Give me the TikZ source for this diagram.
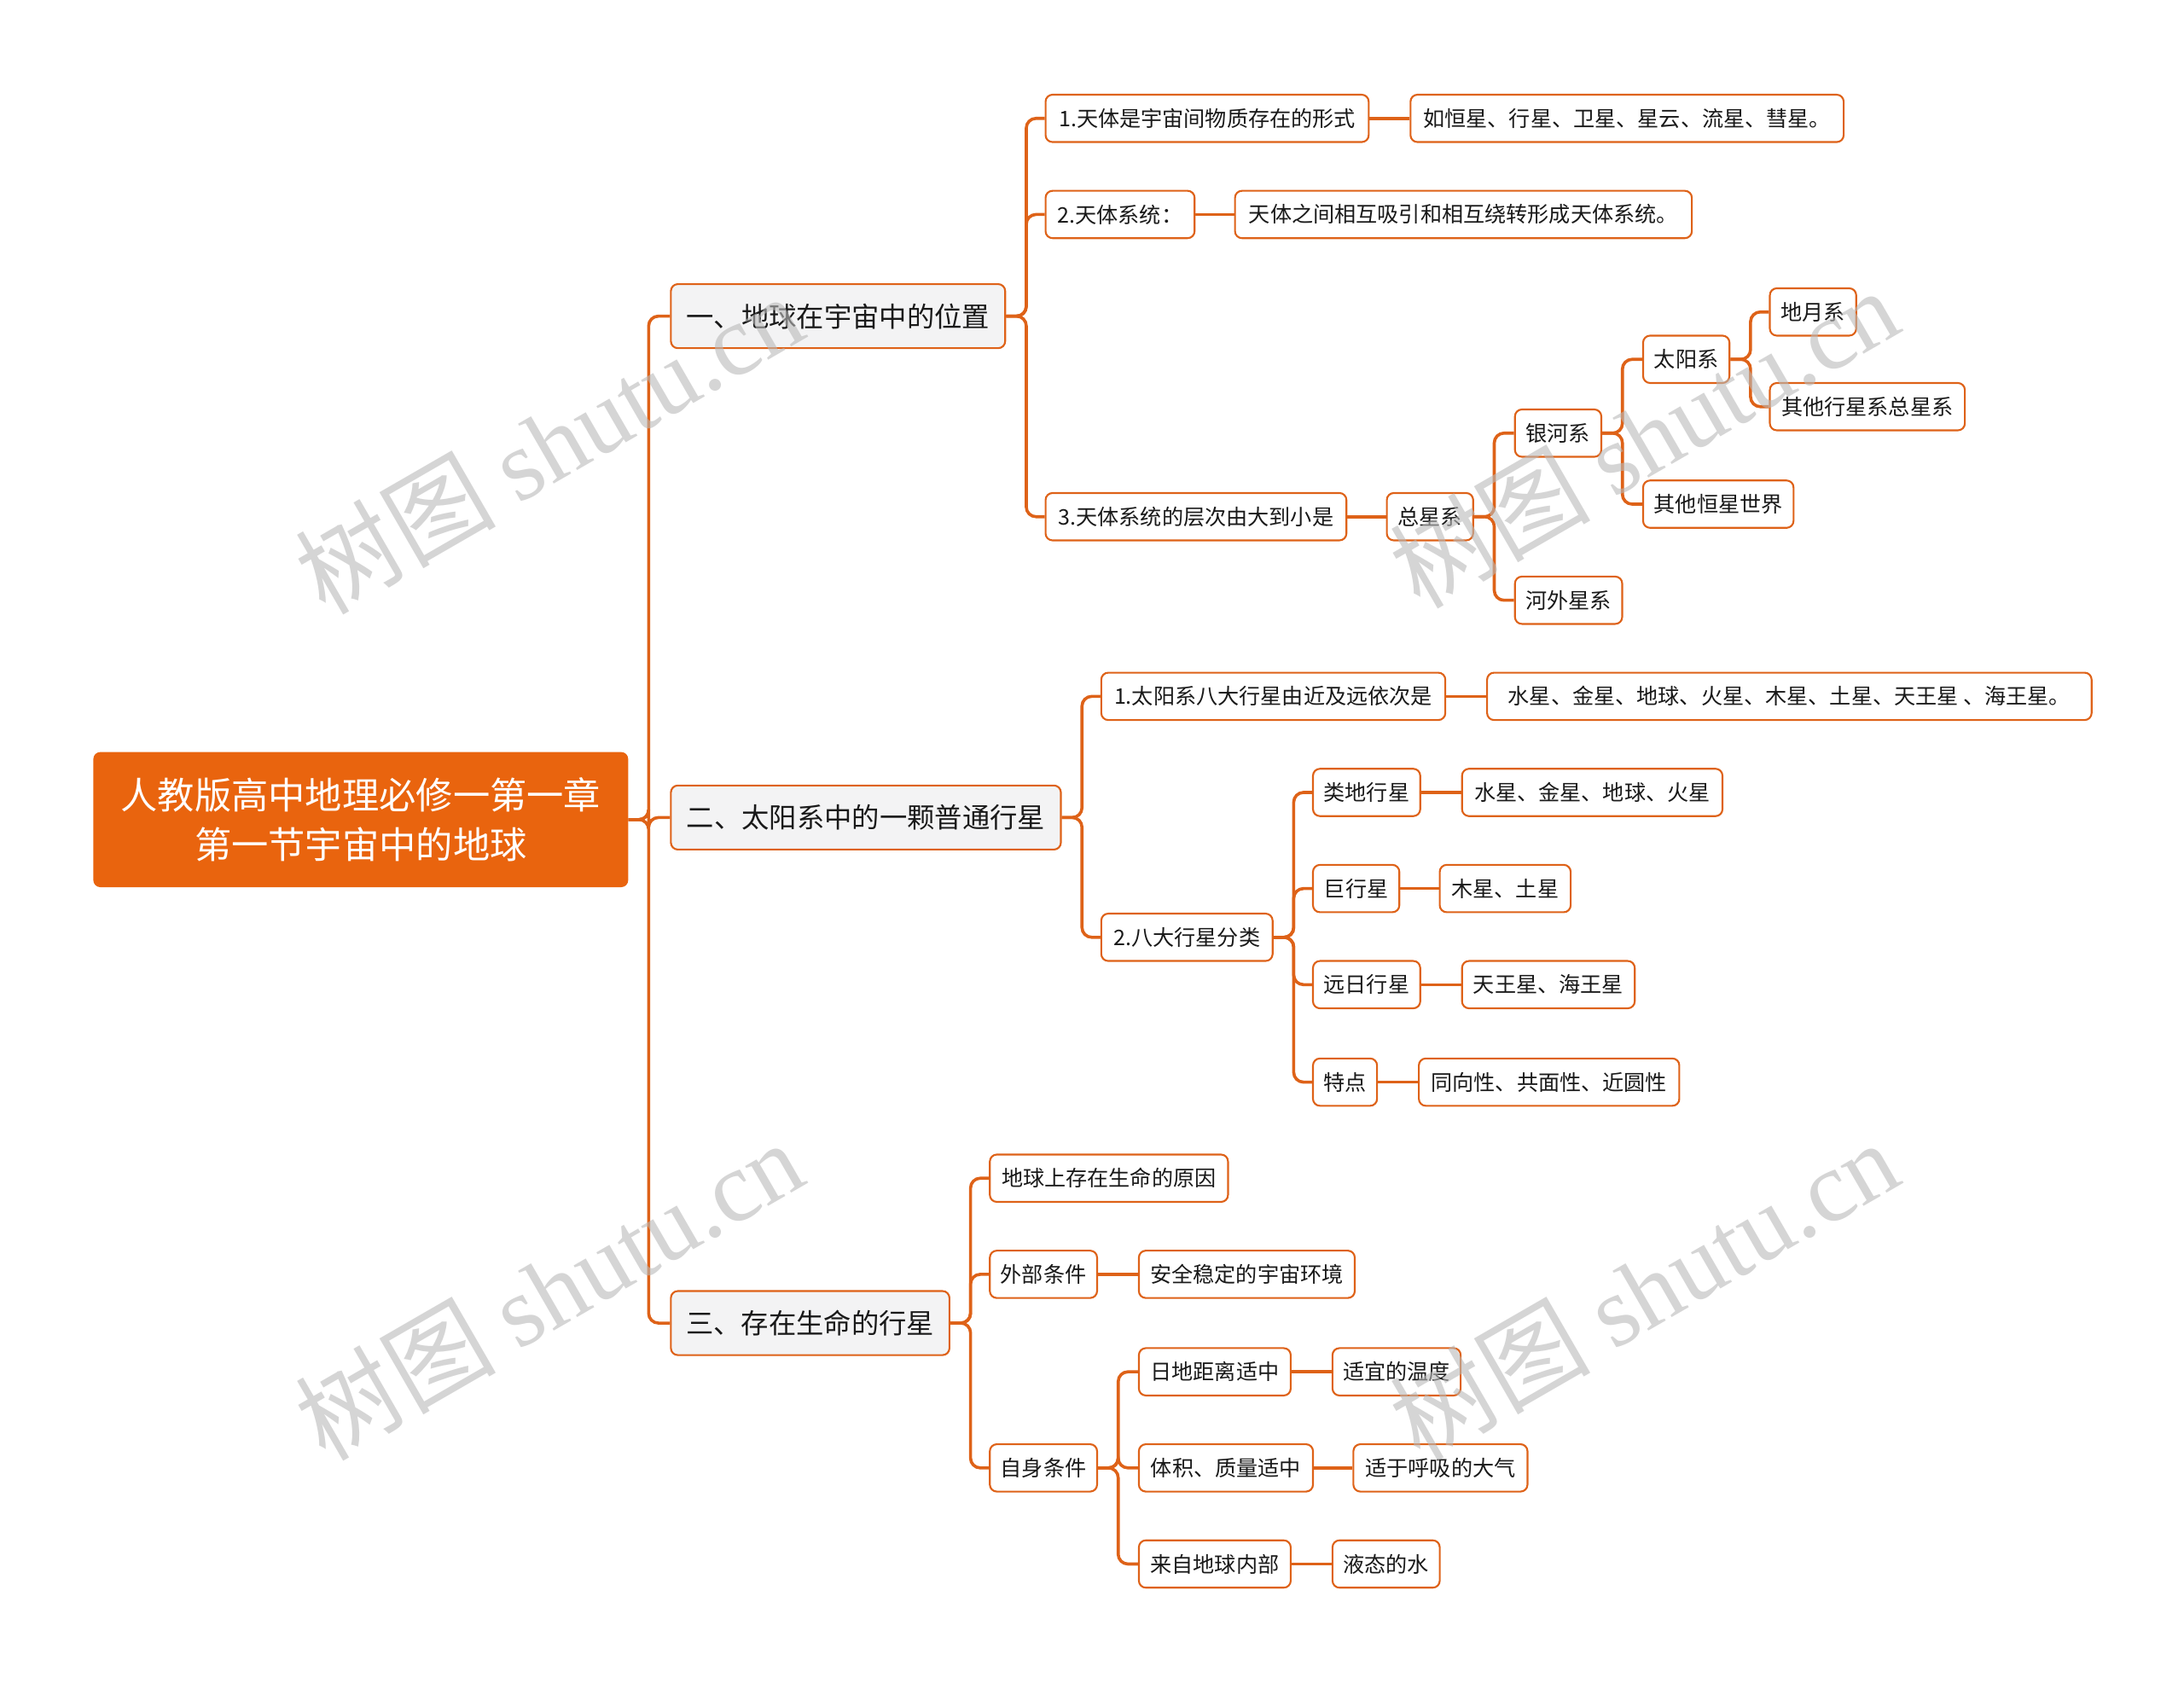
\documentclass[tikz,border=0pt]{standalone}
\usepackage{fontspec}
\setmainfont{Noto Sans CJK SC}
\newfontfamily\wmserif{Liberation Serif}
\newfontfamily\wmcjk{Noto Sans CJK SC}
\definecolor{rootor}{RGB}{233,100,14}
\definecolor{lineor}{RGB}{222,98,24}
\definecolor{graybg}{RGB}{243,243,244}
\definecolor{wmgray}{RGB}{185,185,185}
\tikzset{
 conn/.style={draw=lineor, line width=2.2pt, rounded corners=7pt},
 rootbox/.style={fill=rootor, rounded corners=5pt, text=white, font=\fontsize{26.5}{35}\selectfont, align=center, minimum height=97pt, minimum width=384pt, inner sep=0pt},
 lvone/.style={draw=lineor, fill=graybg, line width=1.3pt, rounded corners=5pt, font=\fontsize{19.8}{22}\selectfont, minimum height=46pt, anchor=west, inner sep=0pt, text=black!90},
 leaf/.style={draw=lineor, fill=white, line width=1.3pt, rounded corners=5pt, font=\fontsize{15.4}{18}\selectfont, minimum height=34pt, anchor=west, inner sep=0pt, text=black!90},
 wmark/.style={rotate=30, text=wmgray, opacity=0.6, font=\fontsize{72}{72}\selectfont},
}
\begin{document}
\begin{tikzpicture}[x=1pt,y=-1pt]
\useasboundingbox (0,0) rectangle (1568,1208);
\fill[white] (0,0) rectangle (1568,1208);
% root
\node[rootbox] (root) at (259,588.5) {人教版高中地理必修一第一章\\第一节宇宙中的地球};
% level one
\node[lvone, minimum width=240pt] (A) at (481,227) {一、地球在宇宙中的位置};
\node[lvone, minimum width=280pt] (B) at (481,587) {二、太阳系中的一颗普通行星};
\node[lvone, minimum width=200pt] (C) at (481,950) {三、存在生命的行星};
% branch A
\node[leaf, minimum width=232pt] (a1) at (750,85) {1.天体是宇宙间物质存在的形式};
\node[leaf, minimum width=311pt] (a1x) at (1012,85) {如恒星、行星、卫星、星云、流星、彗星。};
\node[leaf, minimum width=107pt] (a2) at (750,154) {2.天体系统：};
\node[leaf, minimum width=328pt] (a2x) at (886,154) {天体之间相互吸引和相互绕转形成天体系统。};
\node[leaf, minimum width=216pt] (a3) at (750,371) {3.天体系统的层次由大到小是};
\node[leaf, minimum width=62pt] (zx) at (995,371) {总星系};
\node[leaf, minimum width=62pt] (yh) at (1087,311) {银河系};
\node[leaf, minimum width=77pt] (hw) at (1087,431) {河外星系};
\node[leaf, minimum width=62pt] (ty) at (1179,258) {太阳系};
\node[leaf, minimum width=108pt] (qh) at (1179,362) {其他恒星世界};
\node[leaf, minimum width=62pt] (dy) at (1270,224) {地月系};
\node[leaf, minimum width=140pt] (qx) at (1270,292) {其他行星系总星系};
% branch B
\node[leaf, minimum width=247pt] (b1) at (790,500) {1.太阳系八大行星由近及远依次是};
\node[leaf, minimum width=434pt] (b1x) at (1067,500) {水星、金星、地球、火星、木星、土星、天王星 、海王星。};
\node[leaf, minimum width=123pt] (b2) at (790,673) {2.八大行星分类};
\node[leaf, minimum width=77pt] (lp) at (942,569) {类地行星};
\node[leaf, minimum width=187pt] (lpx) at (1049,569) {水星、金星、地球、火星};
\node[leaf, minimum width=62pt] (jx) at (942,638) {巨行星};
\node[leaf, minimum width=94pt] (jxx) at (1033,638) {木星、土星};
\node[leaf, minimum width=77pt] (yr) at (942,707) {远日行星};
\node[leaf, minimum width=124pt] (yrx) at (1049,707) {天王星、海王星};
\node[leaf, minimum width=46pt] (td) at (942,777) {特点};
\node[leaf, minimum width=187pt] (tdx) at (1018,777) {同向性、共面性、近圆性};
% branch C
\node[leaf, minimum width=171pt] (c1) at (710,846) {地球上存在生命的原因};
\node[leaf, minimum width=77pt] (c2) at (710,915) {外部条件};
\node[leaf, minimum width=155pt] (c2x) at (817,915) {安全稳定的宇宙环境};
\node[leaf, minimum width=77pt] (c3) at (710,1054) {自身条件};
\node[leaf, minimum width=109pt] (r1) at (817,985) {日地距离适中};
\node[leaf, minimum width=92pt] (r1x) at (956,985) {适宜的温度};
\node[leaf, minimum width=125pt] (r2) at (817,1054) {体积、质量适中};
\node[leaf, minimum width=125pt] (r2x) at (971,1054) {适于呼吸的大气};
\node[leaf, minimum width=109pt] (r3) at (817,1123) {来自地球内部};
\node[leaf, minimum width=77pt] (r3x) at (956,1123) {液态的水};
% connectors
\foreach \p/\c in {root/A,root/B,root/C,
  A/a1,A/a2,A/a3, zx/yh,zx/hw, yh/ty,yh/qh, ty/dy,ty/qx,
  B/b1,B/b2, b2/lp,b2/jx,b2/yr,b2/td,
  C/c1,C/c2,C/c3, c3/r1,c3/r2,c3/r3}
  \draw[conn] (\p.east) -- ++(14.5,0) |- (\c.west);
\foreach \p/\c in {a1/a1x,a2/a2x,a3/zx,b1/b1x,lp/lpx,jx/jxx,yr/yrx,td/tdx,c2/c2x,r1/r1x,r2/r2x,r3/r3x}
  \draw[conn] (\p.east) -- (\c.west);
% watermarks
\node[wmark] (w1) at (394,318) {{\wmcjk 树图} {\wmserif shutu.cn}};
\node[wmark] (w2) at (1180,314) {{\wmcjk 树图} {\wmserif shutu.cn}};
\node[wmark] (w3) at (394,926) {{\wmcjk 树图} {\wmserif shutu.cn}};
\node[wmark] (w4) at (1180,926) {{\wmcjk 树图} {\wmserif shutu.cn}};
\end{tikzpicture}
\end{document}
